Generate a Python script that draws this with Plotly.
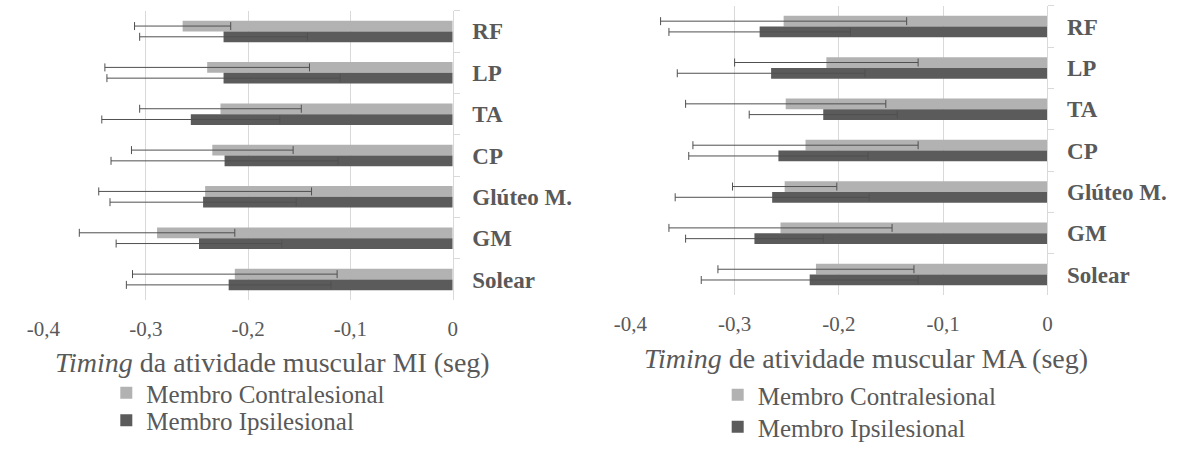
import plotly.graph_objects as go

# ---- data ----
categories = ["RF", "LP", "TA", "CP", "Glúteo M.", "GM", "Solear"]

mi_contra_mean = [-0.264, -0.240, -0.227, -0.235, -0.242, -0.289, -0.213]
mi_contra_sd = [0.047, 0.100, 0.079, 0.079, 0.104, 0.076, 0.100]
mi_ipsi_mean = [-0.224, -0.224, -0.256, -0.223, -0.244, -0.248, -0.219]
mi_ipsi_sd = [0.082, 0.114, 0.087, 0.111, 0.091, 0.081, 0.100]

ma_contra_mean = [-0.253, -0.212, -0.251, -0.232, -0.252, -0.256, -0.222]
ma_contra_sd = [0.118, 0.088, 0.096, 0.108, 0.050, 0.107, 0.094]
ma_ipsi_mean = [-0.276, -0.265, -0.215, -0.258, -0.264, -0.281, -0.228]
ma_ipsi_sd = [0.087, 0.090, 0.071, 0.086, 0.093, 0.066, 0.104]

tick_vals = [-0.4, -0.3, -0.2, -0.1, 0]
tick_text = ["-0,4", "-0,3", "-0,2", "-0,1", "0"]

series_names = ["Membro Contralesional", "Membro Ipsilesional"]
title_mi = "<i>Timing</i> da atividade muscular MI (seg)"
title_ma = "<i>Timing</i> de atividade muscular MA (seg)"

# ---- style ----
W, H = 1180, 450
LIGHT = "#b2b2b2"
DARK = "#5b5b5b"
ERR = "#505050"
TXT = "#595959"
GRID = "#d9d9d9"
FONT = "Liberation Serif"


def px_x(p):
    return p / W


def px_y(p):
    return 1 - p / H


fig = go.Figure()

panels = [
    ("x", "y", mi_contra_mean, mi_contra_sd, mi_ipsi_mean, mi_ipsi_sd, ("legend", "legend2")),
    ("x2", "y2", ma_contra_mean, ma_contra_sd, ma_ipsi_mean, ma_ipsi_sd, ("legend3", "legend4")),
]
for xa, ya, cm, cs, im, isd, lgs in panels:
    for name, mean, sd, col, lg in [
        (series_names[0], cm, cs, LIGHT, lgs[0]),
        (series_names[1], im, isd, DARK, lgs[1]),
    ]:
        fig.add_trace(go.Bar(
            y=categories, x=mean, orientation="h", name=name,
            marker=dict(color=col, line=dict(width=0)),
            error_x=dict(type="data", array=sd, symmetric=True,
                         color=ERR, thickness=1, width=4),
            xaxis=xa, yaxis=ya, legend=lg,
        ))

xcommon = dict(range=[-0.4, 0], tickvals=tick_vals, ticktext=tick_text,
               showgrid=True, gridcolor=GRID, gridwidth=1, zeroline=False,
               showline=False, ticks="", ticklabelstandoff=14,
               tickfont=dict(family=FONT, size=21, color=TXT), fixedrange=True)
ycommon = dict(type="category", categoryorder="array", categoryarray=categories,
               autorange="reversed", side="right", showgrid=False,
               showline=True, linecolor=GRID, linewidth=1,
               ticks="outside", tickson="boundaries", ticklen=6, tickcolor=GRID,
               ticklabelstandoff=14,
               tickfont=dict(family=FONT, size=23, color=TXT, weight="bold"))


def legend_at(xp, yp):
    return dict(x=px_x(xp), y=px_y(yp), xanchor="left", yanchor="middle",
                font=dict(family=FONT, size=25, color=TXT),
                bgcolor="rgba(0,0,0,0)", itemclick=False, itemdoubleclick=False)


fig.update_layout(
    width=W, height=H, margin=dict(l=0, r=0, t=0, b=0),
    paper_bgcolor="white", plot_bgcolor="white",
    barmode="group", bargap=0.48, bargroupgap=0,
    showlegend=True,
    xaxis=dict(domain=[px_x(27), px_x(444)], anchor="y", **xcommon),
    yaxis=dict(domain=[px_y(307), px_y(11)], anchor="x", **ycommon),
    xaxis2=dict(domain=[px_x(625), px_x(1050)], anchor="y2", **xcommon),
    yaxis2=dict(domain=[px_y(302), px_y(6)], anchor="x2", **ycommon),
    legend=legend_at(91, 402),
    legend2=legend_at(91, 430),
    legend3=legend_at(714, 404),
    legend4=legend_at(714, 437),
    annotations=[
        dict(text=title_mi, xref="paper", yref="paper", x=px_x(37), y=px_y(371),
             xanchor="left", yanchor="middle", showarrow=False,
             font=dict(family=FONT, size=28, color=TXT)),
        dict(text=title_ma, xref="paper", yref="paper", x=px_x(637), y=px_y(367),
             xanchor="left", yanchor="middle", showarrow=False,
             font=dict(family=FONT, size=28, color=TXT)),
    ],
)

fig.write_html("out.html")
